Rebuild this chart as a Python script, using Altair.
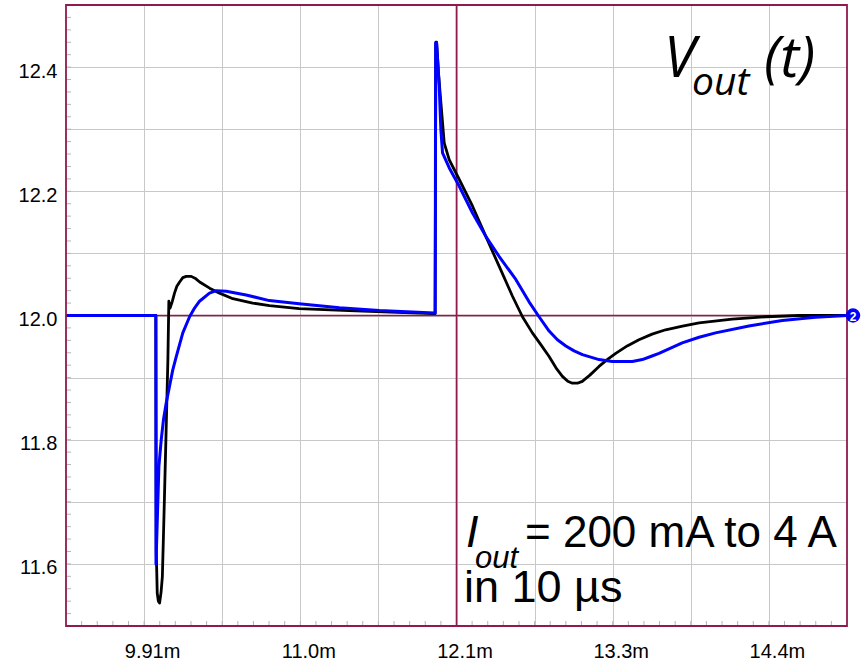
import altair as alt
import pandas as pd

# ---------------- data (time in ms, voltage in V) ----------------
black_t = [9.35, 10.0, 10.003, 10.01, 10.018, 10.027, 10.038, 10.047, 10.055, 10.063,
           10.075, 10.087, 10.094, 10.103, 10.118, 10.135, 10.152, 10.172, 10.195, 10.22,
           10.256, 10.29, 10.317, 10.389, 10.461, 10.557, 10.701, 10.822, 11.037, 11.399,
           11.75, 12.014, 12.02, 12.026, 12.031, 12.045, 12.062, 12.086, 12.122, 12.195,
           12.291, 12.388, 12.484, 12.58, 12.652, 12.724, 12.785, 12.845, 12.9, 12.941,
           12.98, 13.013, 13.05, 13.085, 13.14, 13.206, 13.265, 13.327, 13.41, 13.495,
           13.59, 13.688, 13.81, 13.93, 14.169, 14.411, 14.652, 15.0]
black_v = [12.0, 12.0, 11.62, 11.553, 11.54, 11.537, 11.555, 11.579, 11.645, 11.714,
           11.821, 11.928, 12.023, 12.012, 12.022, 12.036, 12.047, 12.054, 12.061, 12.063,
           12.063, 12.059, 12.054, 12.044, 12.036, 12.027, 12.020, 12.016, 12.011, 12.008,
           12.005, 12.003, 12.003, 12.44, 12.44, 12.39, 12.343, 12.278, 12.251, 12.219,
           12.176, 12.127, 12.079, 12.031, 11.998, 11.972, 11.953, 11.934, 11.914, 11.902,
           11.894, 11.891, 11.891, 11.894, 11.904, 11.918, 11.929, 11.939, 11.951, 11.961,
           11.97, 11.977, 11.983, 11.988, 11.994, 11.998, 12.0, 12.0]

blue_t = [9.35, 10.0, 10.001, 10.022, 10.039, 10.055, 10.075, 10.099, 10.122, 10.148,
          10.195, 10.244, 10.28, 10.316, 10.388, 10.437, 10.509, 10.653, 10.821, 11.037,
          11.328, 11.617, 12.014, 12.021, 12.024, 12.031, 12.05, 12.062, 12.074, 12.122,
          12.195, 12.291, 12.388, 12.484, 12.604, 12.7, 12.766, 12.845, 12.905, 12.966,
          13.026, 13.086, 13.206, 13.302, 13.447, 13.519, 13.58, 13.64, 13.72, 13.808,
          13.93, 14.049, 14.29, 14.531, 14.772, 15.0]
blue_v = [12.0, 12.0, 11.60, 11.757, 11.80, 11.832, 11.859, 11.886, 11.912, 11.934,
          11.972, 11.998, 12.012, 12.023, 12.036, 12.040, 12.039, 12.033, 12.024, 12.019,
          12.0125, 12.008, 12.004, 12.004, 12.439, 12.439, 12.369, 12.299, 12.262, 12.238,
          12.208, 12.165, 12.127, 12.095, 12.058, 12.022, 12.0, 11.975, 11.961, 11.951,
          11.943, 11.937, 11.929, 11.926, 11.926, 11.929, 11.934, 11.939, 11.947, 11.956,
          11.965, 11.972, 11.983, 11.992, 11.997, 12.0]

x_label_text = ["9.91m", "11.0m", "12.1m", "13.3m", "14.4m"]
x_domain = [9.35, 15.0]
y_domain = [11.5, 12.5]
x_grid_step = 0.565
y_grid_step = 0.1
cursor_t = [12.175]
cursor_v = [12.0]
marker_t = [15.0]
marker_v = [12.0]
marker_label = ["2"]
title_parts = ["V", "out", "(t)"]
note_parts = ["I", "out", "= 200 mA to 4 A", "in 10 µs"]

# ---------------- styling ----------------
W, H = 781, 621
MAROON = "#8e1a4e"
GRID = "#c8c8c8"
TICK = "#b4b4b4"
FONT = "Liberation Sans"

x_grid_vals = [round(x_domain[0] + x_grid_step * k, 4) for k in range(1, 10)]
y_grid_vals = [round(y_domain[0] + y_grid_step * k, 3) for k in range(1, 10)]
x_minor = [round(x_domain[0] + x_grid_step / 5 * k, 4) for k in range(1, 50)]
y_minor = [round(y_domain[0] + y_grid_step / 5 * k, 3) for k in range(1, 50)]

label_arr = "[" + ",".join("'" + s + "'" for s in x_label_text) + "]"
kexpr = f"round((datum.value-{x_domain[0]})/{x_grid_step})"
x_label_expr = f"({kexpr} % 2 == 1) ? {label_arr}[({kexpr}-1)/2] : ''"
y_label_expr = "(round(datum.value*10) % 2 == 0) ? format(datum.value, '.1f') : ''"

xscale = alt.Scale(domain=x_domain, nice=False, zero=False)
yscale = alt.Scale(domain=y_domain, nice=False, zero=False)

xaxis = alt.Axis(values=x_grid_vals, grid=True, gridColor=GRID, gridWidth=1,
                 ticks=False, tickSize=0, domain=False, labelExpr=x_label_expr,
                 labelFont=FONT, labelFontSize=20, labelColor="#000000",
                 labelPadding=15, labelOffset=8, labelOverlap=False, labelFlush=False,
                 labelBound=False, title=None)
yaxis = alt.Axis(values=y_grid_vals, grid=True, gridColor=GRID, gridWidth=1,
                 ticks=False, tickSize=0, domain=False, labelExpr=y_label_expr,
                 labelFont=FONT, labelFontSize=20, labelColor="#000000",
                 labelPadding=9, labelOffset=4, labelOverlap=False, labelFlush=False,
                 labelBound=False, title=None)

X = lambda f: alt.X(f, type="quantitative", scale=xscale, axis=xaxis)
Y = lambda f: alt.Y(f, type="quantitative", scale=yscale, axis=yaxis)

black_df = pd.DataFrame({"t": black_t, "v": black_v, "i": range(len(black_t))})
blue_df = pd.DataFrame({"t": blue_t, "v": blue_v, "i": range(len(blue_t))})

# minor ticks (inside the frame)
xt = alt.Chart(pd.DataFrame({"t": x_minor})).mark_rule(color=TICK, strokeWidth=1).encode(
    x=X("t"), y=alt.value(H - 5), y2=alt.value(H))
yt = alt.Chart(pd.DataFrame({"v": y_minor})).mark_rule(color=TICK, strokeWidth=1).encode(
    y=Y("v"), x=alt.value(0), x2=alt.value(5))

cross_x = alt.Chart(pd.DataFrame({"t": cursor_t})).mark_rule(color=MAROON, strokeWidth=1.6).encode(x=X("t"))
cross_y = alt.Chart(pd.DataFrame({"v": cursor_v})).mark_rule(color=MAROON, strokeWidth=1.6).encode(y=Y("v"))

black_line = alt.Chart(black_df).mark_line(color="#000000", strokeWidth=2.8, strokeJoin="round").encode(
    x=X("t"), y=Y("v"), order=alt.Order("i:Q"))
blue_line = alt.Chart(blue_df).mark_line(color="#0000ff", strokeWidth=3, strokeJoin="round").encode(
    x=X("t"), y=Y("v"), order=alt.Order("i:Q"))

mk_df = pd.DataFrame({"t": marker_t, "v": marker_v, "s": marker_label})
marker = alt.Chart(mk_df).mark_circle(color="#0000ff", opacity=1, size=210, xOffset=6).encode(
    x=X("t"), y=Y("v"))
marker_txt = alt.Chart(mk_df).mark_text(color="white", fontSize=12, fontWeight="bold", font=FONT,
                                        xOffset=6, yOffset=1, baseline="middle").encode(
    x=X("t"), y=Y("v"), text="s:N")


def txt(s, x, y, size, family, italic=True, align="left"):
    kw = dict(align=align, baseline="alphabetic", font=family, fontSize=size, color="#000000")
    if italic:
        kw["fontStyle"] = "italic"
    return alt.Chart(pd.DataFrame({"s": [s]})).mark_text(**kw).encode(
        x=alt.value(x), y=alt.value(y), text="s:N")


t1 = txt(title_parts[0], 598, 72, 57, "Open Sans")
t2 = txt(title_parts[1], 626, 90, 39, "Open Sans")
t3 = txt(title_parts[2], 698, 72, 57, "Open Sans")

n1 = txt(note_parts[0], 400, 542, 45, FONT)
n2 = txt(note_parts[1], 409, 563, 31, FONT)
n3 = txt(note_parts[2], 459, 542, 44, FONT, italic=False)
n4 = txt(note_parts[3], 398, 597, 45, FONT, italic=False)

border = alt.Chart(pd.DataFrame({"a": [0]})).mark_rect(fillOpacity=0, stroke=MAROON, strokeWidth=1.8).encode(
    x=alt.value(0), x2=alt.value(W), y=alt.value(0), y2=alt.value(H))

chart = alt.layer(
    xt, yt, cross_x, cross_y, black_line, blue_line, border, marker, marker_txt,
    t1, t2, t3, n1, n2, n3, n4
).properties(
    width=W, height=H,
    autosize=alt.AutoSizeParams(type="none"),
    padding={"left": 66, "top": 5, "right": 865 - 66 - W, "bottom": 660 - 5 - H},
    background="white",
).configure_view(strokeWidth=0)

chart.save("out.html", embed_options={"renderer": "svg", "actions": False})
